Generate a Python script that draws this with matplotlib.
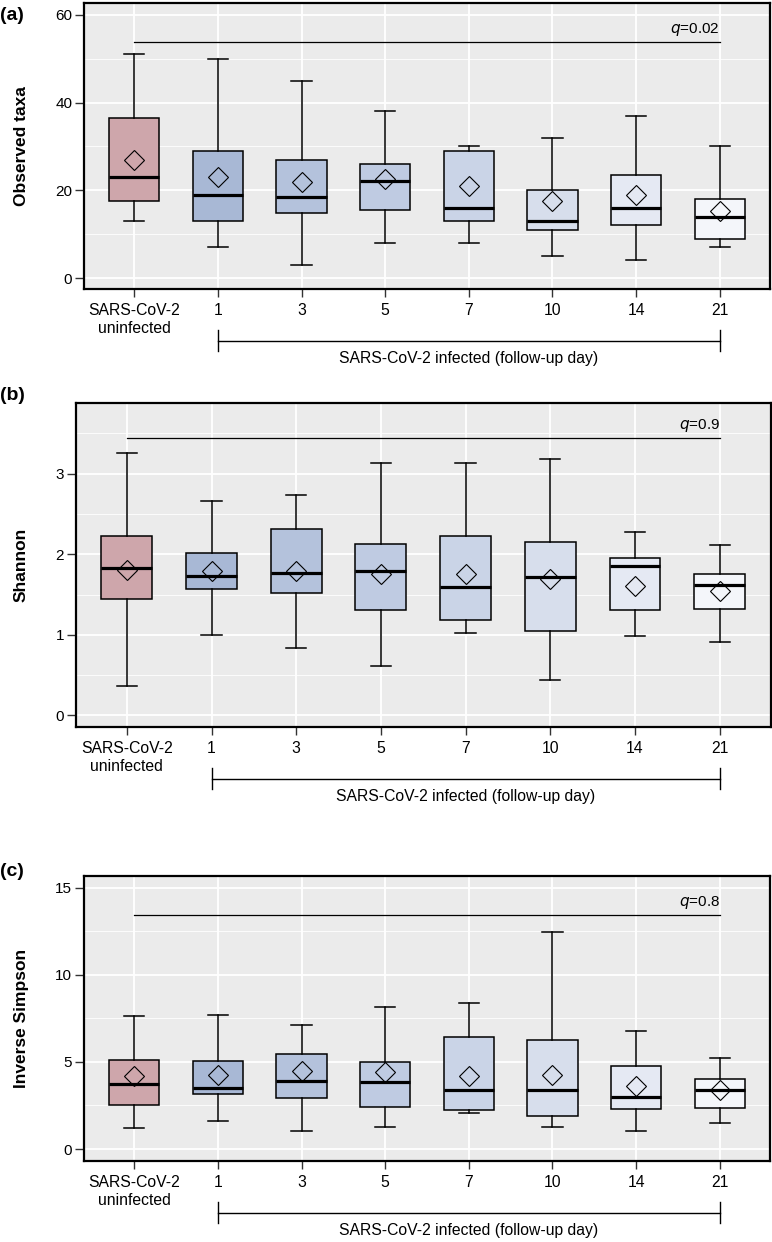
import matplotlib.pyplot as plt
from matplotlib.ticker import MultipleLocator

plt.rcParams['font.family'] = ['Liberation Sans', 'DejaVu Sans']

# Gruppen (x-Achse)
groups = ['SARS-CoV-2\nuninfected', '1', '3', '5', '7', '10', '14', '21']
colors = ['#CEA6AB', '#A8B8D5', '#B4C2DC', '#BFCBE2', '#CAD4E7',
          '#D7DEEC', '#E5E9F3', '#F4F6FA']

# (a) Observed taxa
obs_lo = [13, 7, 3, 8, 8, 5, 4, 7]
obs_q1 = [17.5, 13, 14.9, 15.5, 13, 11, 12, 9]
obs_med = [23, 19, 18.5, 22.1, 16, 13, 16, 14]
obs_q3 = [36.5, 29, 27, 26, 29, 20, 23.5, 18]
obs_hi = [51, 50, 45, 38, 30, 32, 37, 30]
obs_mean = [27, 23, 22, 22.6, 21, 17.6, 19, 15.3]

# (b) Shannon
sha_lo = [0.37, 1.00, 0.84, 0.61, 1.02, 0.44, 0.99, 0.91]
sha_q1 = [1.44, 1.57, 1.52, 1.31, 1.19, 1.05, 1.31, 1.32]
sha_med = [1.83, 1.73, 1.77, 1.79, 1.59, 1.72, 1.86, 1.62]
sha_q3 = [2.22, 2.01, 2.31, 2.13, 2.23, 2.15, 1.95, 1.75]
sha_hi = [3.26, 2.66, 2.74, 3.13, 3.13, 3.18, 2.28, 2.12]
sha_mean = [1.80, 1.79, 1.79, 1.76, 1.76, 1.69, 1.61, 1.54]

# (c) Inverse Simpson
inv_lo = [1.19, 1.63, 1.01, 1.24, 2.07, 1.28, 1.05, 1.49]
inv_q1 = [2.54, 3.16, 2.95, 2.43, 2.24, 1.87, 2.31, 2.35]
inv_med = [3.71, 3.52, 3.90, 3.83, 3.37, 3.37, 3.00, 3.38]
inv_q3 = [5.09, 5.07, 5.45, 4.97, 6.41, 6.24, 4.74, 4.00]
inv_hi = [7.63, 7.71, 7.10, 8.17, 8.39, 12.45, 6.77, 5.20]
inv_mean = [4.21, 4.27, 4.49, 4.44, 4.21, 4.27, 3.63, 3.40]

panels = [
    dict(label='(a)', ylabel='Observed taxa', rect_px=(84, 3, 770, 289),
         data=(obs_lo, obs_q1, obs_med, obs_q3, obs_hi, obs_mean),
         ylim=(-2.5, 62.7), major=20, minor=10, sig=53.8, q='0.02', label_y=15),
    dict(label='(b)', ylabel='Shannon', rect_px=(76, 402.7, 770.5, 726.7),
         data=(sha_lo, sha_q1, sha_med, sha_q3, sha_hi, sha_mean),
         ylim=(-0.14, 3.88), major=1, minor=0.5, sig=3.44, q='0.9', label_y=395),
    dict(label='(c)', ylabel='Inverse Simpson', rect_px=(84, 875.7, 770, 1160.7),
         data=(inv_lo, inv_q1, inv_med, inv_q3, inv_hi, inv_mean),
         ylim=(-0.67, 15.68), major=5, minor=2.5, sig=13.44, q='0.8', label_y=871),
]

W, H = 772, 1242
fig = plt.figure(figsize=(W / 100, H / 100), dpi=100)

for p in panels:
    l, t, r, b = p['rect_px']
    ax = fig.add_axes([l / W, 1 - b / H, (r - l) / W, (b - t) / H])
    ax.set_facecolor('#EBEBEB')
    ax.set_axisbelow(True)

    lo, q1, med, q3, hi, mean = p['data']
    stats = [dict(whislo=lo[i], q1=q1[i], med=med[i], q3=q3[i], whishi=hi[i],
                  mean=mean[i], fliers=[]) for i in range(len(groups))]
    bp = ax.bxp(stats, positions=range(len(groups)), widths=0.6,
                patch_artist=True, showmeans=True, manage_ticks=False,
                capwidths=0.24,
                boxprops=dict(edgecolor='black', linewidth=1.1),
                medianprops=dict(color='black', linewidth=2.3),
                whiskerprops=dict(color='black', linewidth=1.1),
                capprops=dict(color='black', linewidth=1.1),
                meanprops=dict(marker='D', markerfacecolor='none',
                               markeredgecolor='black', markersize=10.5,
                               markeredgewidth=0.8))
    for box, c in zip(bp['boxes'], colors):
        box.set_facecolor(c)

    ax.set_xlim(-0.6, 7.6)
    ax.set_ylim(*p['ylim'])
    ax.yaxis.set_major_locator(MultipleLocator(p['major']))
    ax.yaxis.set_minor_locator(MultipleLocator(p['minor']))
    ax.set_xticks(range(len(groups)))
    ax.set_xticklabels(groups, fontsize=11.3, linespacing=1.3)
    ax.tick_params(axis='y', which='major', labelsize=11, length=6.5,
                   width=1, color='#333333', pad=2)
    ax.tick_params(axis='y', which='minor', length=0)
    ax.tick_params(axis='x', length=6, width=1, color='#333333', pad=4)
    ax.grid(which='major', color='white', linewidth=1.3)
    ax.grid(which='minor', axis='y', color='white', linewidth=0.6)
    for s in ax.spines.values():
        s.set_linewidth(1.6)
        s.set_color('black')

    ax.set_ylabel(p['ylabel'], fontsize=12.5, fontweight='bold')
    ax.yaxis.set_label_coords((29 - l) / (r - l), 0.5)

    # Signifikanzlinie
    ax.plot([0, 7], [p['sig'], p['sig']], color='black', linewidth=0.9)
    ax.annotate('$q$=' + p['q'], xy=(7, p['sig']), xytext=(0, 9),
                textcoords='offset pixels', ha='right', va='baseline',
                fontsize=11)

    # Klammer unter der x-Achse
    hpx = b - t
    tr = ax.get_xaxis_transform()
    ax.plot([1, 7], [-52 / hpx] * 2, color='black', linewidth=1,
            transform=tr, clip_on=False)
    for xx in (1, 7):
        ax.plot([xx, xx], [-41 / hpx, -62 / hpx], color='black', linewidth=1,
                transform=tr, clip_on=False)
    ax.text(4, -70 / hpx, 'SARS-CoV-2 infected (follow-up day)', transform=tr,
            ha='center', va='center', fontsize=11.3)

    fig.text(0.0, 1 - p['label_y'] / H, p['label'], fontsize=14,
             fontweight='bold', ha='left', va='center')

fig.savefig('out.png', dpi=100)
